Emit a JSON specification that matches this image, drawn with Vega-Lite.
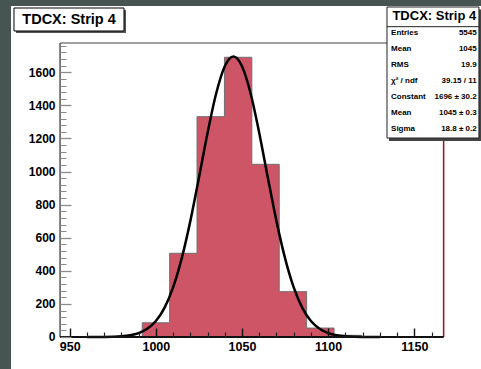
{
  "$schema": "https://vega.github.io/schema/vega-lite/v6.json",
  "width": 470,
  "height": 363,
  "autosize": "none",
  "padding": {"left": 11, "top": 6, "right": 0, "bottom": 0},
  "background": "#475552",
  "config": {
    "view": {"stroke": null, "fill": "white"},
    "font": "Liberation Sans",
    "text": {"font": "Liberation Sans"}
  },
  "datasets": {
    "bins": [
      {"lo": 944.4, "n": 0},
      {"lo": 960.3, "n": 0},
      {"lo": 976.2, "n": 0},
      {"lo": 992.1, "n": 86},
      {"lo": 1008.0, "n": 506},
      {"lo": 1023.9, "n": 1332},
      {"lo": 1039.8, "n": 1691},
      {"lo": 1055.7, "n": 1044},
      {"lo": 1071.6, "n": 274},
      {"lo": 1087.5, "n": 54},
      {"lo": 1103.4, "n": 10},
      {"lo": 1119.3, "n": 0},
      {"lo": 1135.2, "n": 0},
      {"lo": 1151.1, "n": 0},
      {"lo": 1167.0, "n": 0}
    ],
    "fit": [
      {"tdc": 960, "fit": 0.06}, {"tdc": 965, "fit": 0.2}, {"tdc": 970, "fit": 0.59},
      {"tdc": 975, "fit": 1.66}, {"tdc": 980, "fit": 4.3}, {"tdc": 985, "fit": 10.4},
      {"tdc": 990, "fit": 23.5}, {"tdc": 995, "fit": 49.4}, {"tdc": 1000, "fit": 96.6},
      {"tdc": 1005, "fit": 176.4}, {"tdc": 1010, "fit": 299.7}, {"tdc": 1015, "fit": 474.9},
      {"tdc": 1020, "fit": 700.5}, {"tdc": 1025, "fit": 963.2}, {"tdc": 1030, "fit": 1233.7},
      {"tdc": 1035, "fit": 1472.3}, {"tdc": 1040, "fit": 1637}, {"tdc": 1045, "fit": 1696},
      {"tdc": 1050, "fit": 1637}, {"tdc": 1055, "fit": 1472.3}, {"tdc": 1060, "fit": 1233.7},
      {"tdc": 1065, "fit": 963.2}, {"tdc": 1070, "fit": 700.5}, {"tdc": 1075, "fit": 474.9},
      {"tdc": 1080, "fit": 299.7}, {"tdc": 1085, "fit": 176.4}, {"tdc": 1090, "fit": 96.6},
      {"tdc": 1095, "fit": 49.4}, {"tdc": 1100, "fit": 23.5}, {"tdc": 1105, "fit": 10.4},
      {"tdc": 1110, "fit": 4.3}, {"tdc": 1115, "fit": 1.66}, {"tdc": 1120, "fit": 0.59},
      {"tdc": 1125, "fit": 0.2}, {"tdc": 1130, "fit": 0.06}
    ],
    "stats": [
      {"stat": "Entries", "val": "5545"},
      {"stat": "Mean", "val": "1045"},
      {"stat": "RMS", "val": "19.9"},
      {"stat": "χ² / ndf", "val": "39.15 / 11"},
      {"stat": "Constant", "val": "1696 ± 30.2"},
      {"stat": "Mean", "val": "1045 ± 0.3"},
      {"stat": "Sigma", "val": "18.8 ± 0.2"}
    ]
  },
  "layer": [
    {
      "layer": [
        {
          "data": {"name": "bins"},
          "mark": {"type": "area", "interpolate": "step-after", "color": "#cd5565"},
          "encoding": {
            "x": {
              "field": "lo", "type": "quantitative",
              "scale": {"domain": [915.93, 1188.7], "nice": false, "zero": false},
              "axis": {
                "orient": "bottom", "offset": -32, "values": [950, 1000, 1050, 1100, 1150],
                "format": "d",
                "domain": false, "ticks": false, "grid": false, "title": null,
                "labelPadding": 3, "labelFontSize": 12.5, "labelFontWeight": "bold",
                "labelColor": "black", "labelFont": "Liberation Sans", "labelFlush": false, "labelOverlap": false
              }
            },
            "y": {
              "field": "n", "type": "quantitative",
              "scale": {"domain": [-193.5, 2001], "nice": false, "zero": false},
              "axis": {
                "orient": "left", "offset": -49,
                "values": [0, 200, 400, 600, 800, 1000, 1200, 1400, 1600],
                "format": "d",
                "domain": false, "ticks": false, "grid": false, "title": null,
                "labelPadding": 5, "labelFontSize": 12, "labelFontWeight": "bold",
                "labelColor": "black", "labelFont": "Liberation Sans", "labelFlush": false, "labelOverlap": false
              }
            },
            "y2": {"datum": 0}
          }
        },
        {
          "data": {"name": "bins"},
          "mark": {"type": "line", "interpolate": "step-after", "color": "#707070", "strokeWidth": 1},
          "encoding": {
            "x": {
              "field": "lo", "type": "quantitative",
              "axis": {
                "orient": "bottom", "offset": -32, "values": [950, 1000, 1050, 1100, 1150],
                "domain": false, "labels": false, "grid": false, "title": null,
                "tickSize": -9, "tickColor": "#111111", "tickWidth": 1.4, "zindex": 2
              }
            },
            "y": {
              "field": "n", "type": "quantitative",
              "axis": {
                "orient": "left", "offset": -49,
                "values": [0, 200, 400, 600, 800, 1000, 1200, 1400, 1600],
                "domain": false, "labels": false, "grid": false, "title": null,
                "tickSize": -11, "tickColor": "#8a8a8a", "tickWidth": 1.3, "zindex": 2
              }
            }
          }
        },
        {
          "data": {"name": "fit"},
          "mark": {"type": "line", "interpolate": "monotone", "color": "black", "strokeWidth": 2.5},
          "encoding": {
            "x": {
              "field": "tdc", "type": "quantitative",
              "axis": {
                "orient": "bottom", "offset": -32,
                "values": [960, 970, 980, 990, 1010, 1020, 1030, 1040, 1060, 1070, 1080, 1090, 1110, 1120, 1130, 1140, 1160],
                "domain": false, "labels": false, "grid": false, "title": null,
                "tickSize": -5, "tickColor": "#222222", "tickWidth": 1.2, "zindex": 2
              }
            },
            "y": {
              "field": "fit", "type": "quantitative",
              "axis": {
                "orient": "left", "offset": -49,
                "values": [40, 80, 120, 160, 240, 280, 320, 360, 440, 480, 520, 560, 640, 680, 720, 760, 840, 880, 920, 960, 1040, 1080, 1120, 1160, 1240, 1280, 1320, 1360, 1440, 1480, 1520, 1560, 1640, 1680, 1720, 1760],
                "domain": false, "labels": false, "grid": false, "title": null,
                "tickSize": -6, "tickColor": "#8a8a8a", "tickWidth": 1, "zindex": 2
              }
            }
          }
        },
        {
          "data": {"values": [{}]},
          "mark": {"type": "rule", "color": "#a0a0a0", "strokeWidth": 2},
          "encoding": {
            "x": {"datum": 944.4, "axis": null},
            "x2": {"datum": 1167},
            "y": {"datum": 1777, "axis": null}
          }
        },
        {
          "data": {"values": [{}]},
          "mark": {"type": "rule", "color": "#a31212", "strokeWidth": 1.5},
          "encoding": {
            "x": {"datum": 1167, "axis": null},
            "y": {"datum": 0, "axis": null},
            "y2": {"datum": 1777}
          }
        },
        {
          "data": {"values": [{}]},
          "mark": {"type": "rule", "color": "#555555", "strokeWidth": 1.5},
          "encoding": {
            "x": {"datum": 944.4, "axis": null},
            "y": {"datum": 0, "axis": null},
            "y2": {"datum": 1777}
          }
        },
        {
          "data": {"values": [{}]},
          "mark": {"type": "rule", "color": "#111111", "strokeWidth": 2},
          "encoding": {
            "x": {"datum": 944.4, "axis": null},
            "x2": {"datum": 1167},
            "y": {"datum": 0, "axis": null}
          }
        },
        {
          "data": {"values": [{}]},
          "mark": {"type": "rect", "color": "#555555"},
          "encoding": {
            "x": {"datum": 918.83, "axis": null},
            "x2": {"datum": 982.67},
            "y": {"datum": 1976.8, "axis": null},
            "y2": {"datum": 1837.8}
          }
        },
        {
          "data": {"values": [{}]},
          "mark": {"type": "rect", "fill": "white", "stroke": "black", "strokeWidth": 1},
          "encoding": {
            "x": {"datum": 917.67, "axis": null},
            "x2": {"datum": 981.51},
            "y": {"datum": 1988.9, "axis": null},
            "y2": {"datum": 1849.9}
          }
        },
        {
          "data": {"values": [{"title": "TDCX: Strip 4"}]},
          "mark": {"type": "text", "align": "center", "baseline": "middle", "fontSize": 14.5, "fontWeight": "bold", "color": "black", "dy": 1},
          "encoding": {
            "x": {"datum": 949.6, "axis": null},
            "y": {"datum": 1925.4, "axis": null},
            "text": {"field": "title"}
          }
        },
        {
          "data": {"values": [{}]},
          "mark": {"type": "rect", "color": "#444444"},
          "encoding": {
            "x": {"datum": 1135.3, "axis": null},
            "x2": {"datum": 1188.7},
            "y": {"datum": 1980, "axis": null},
            "y2": {"datum": 1184.8}
          }
        },
        {
          "data": {"values": [{}]},
          "mark": {"type": "rect", "fill": "white", "stroke": "#222222", "strokeWidth": 1},
          "encoding": {
            "x": {"datum": 1134.14, "axis": null},
            "x2": {"datum": 1187.5},
            "y": {"datum": 1995, "axis": null},
            "y2": {"datum": 1203}
          }
        },
        {
          "data": {"values": [{}]},
          "mark": {"type": "rule", "color": "#222222", "strokeWidth": 1},
          "encoding": {
            "x": {"datum": 1134.14, "axis": null},
            "x2": {"datum": 1187.5},
            "y": {"datum": 1876, "axis": null}
          }
        },
        {
          "data": {"values": [{"title": "TDCX: Strip 4"}]},
          "mark": {"type": "text", "align": "center", "baseline": "middle", "fontSize": 13, "fontWeight": "bold", "color": "black", "dy": 1},
          "encoding": {
            "x": {"datum": 1161.6, "axis": null},
            "y": {"datum": 1943.6, "axis": null},
            "text": {"field": "title"}
          }
        }
      ],
      "resolve": {"axis": {"x": "independent", "y": "independent"}}
    },
    {
      "data": {"name": "stats"},
      "transform": [{"window": [{"op": "row_number", "as": "row"}]}],
      "layer": [
        {
          "mark": {"type": "text", "align": "left", "baseline": "middle", "fontSize": 8, "fontWeight": "bold", "color": "black"},
          "encoding": {
            "x": {"datum": 1136.5, "axis": null},
            "y": {"field": "row", "type": "quantitative", "scale": {"domain": [1, 7], "range": [27.3, 123.3]}, "axis": null},
            "text": {"field": "stat"}
          }
        },
        {
          "mark": {"type": "text", "align": "right", "baseline": "middle", "fontSize": 8, "fontWeight": "bold", "color": "black"},
          "encoding": {
            "x": {"datum": 1186.2, "axis": null},
            "y": {"field": "row", "type": "quantitative", "axis": null},
            "text": {"field": "val"}
          }
        }
      ]
    }
  ],
  "resolve": {
    "scale": {"y": "independent"},
    "axis": {"x": "independent", "y": "independent"}
  }
}
